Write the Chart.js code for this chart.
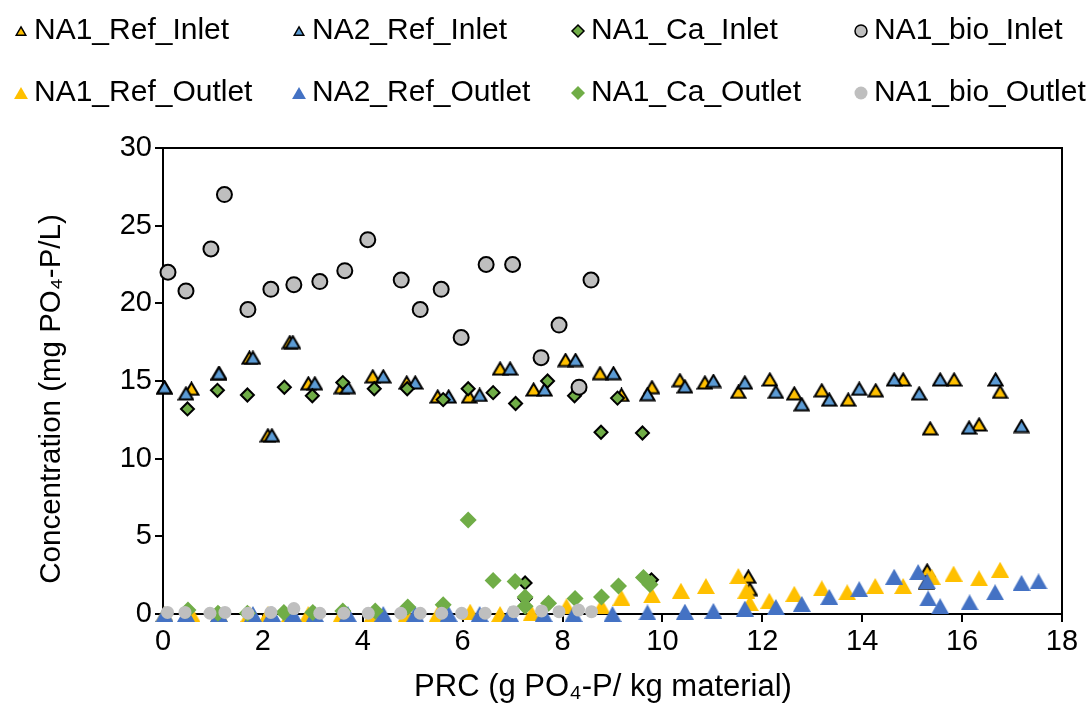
<!DOCTYPE html>
<html>
<head>
<meta charset="utf-8">
<title>PRC scatter</title>
<script src="https://cdn.jsdelivr.net/npm/chart.js@4.4.0/dist/chart.umd.min.js"></script>
<style>
  html, body { margin:0; padding:0; background:#fff; }
  #wrap { width:1089px; height:704px; }
</style>
</head>
<body>
<div id="wrap"><canvas id="chart" width="1089" height="704"></canvas></div>
<script>
// series (x = PRC, y = concentration)
const seriesNames = ['NA1_Ref_Inlet', 'NA2_Ref_Inlet', 'NA1_Ca_Inlet', 'NA1_bio_Inlet',
                     'NA1_Ref_Outlet', 'NA2_Ref_Outlet', 'NA1_Ca_Outlet', 'NA1_bio_Outlet'];

const refInletX = [0.03, 0.57, 1.12, 1.73, 2.10, 2.54, 2.91, 3.58, 4.20, 4.88, 5.50, 6.13, 6.75, 7.42, 8.06, 8.75, 9.18, 9.79, 10.35, 10.85, 11.52, 11.72, 11.75, 12.15, 12.64, 13.19, 13.72, 14.27, 14.82, 15.30, 15.36, 15.84, 16.34, 16.76];
const refInletY = [14.6, 14.5, 15.5, 16.5, 11.5, 17.5, 14.85, 14.6, 15.3, 14.9, 14.0, 14.0, 15.8, 14.45, 16.35, 15.5, 14.1, 14.6, 15.05, 14.9, 14.3, 2.4, 1.6, 15.1, 14.2, 14.4, 13.8, 14.4, 15.1, 2.8, 11.95, 15.1, 12.2, 14.3];

const ref2InletX = [0.03, 0.46, 1.12, 1.80, 2.18, 2.60, 3.04, 3.70, 4.41, 5.05, 5.72, 6.34, 6.95, 7.64, 8.26, 9.02, 9.70, 10.45, 11.02, 11.65, 12.27, 12.79, 13.34, 13.94, 14.64, 15.14, 15.28, 15.56, 16.14, 16.67, 17.19];
const ref2InletY = [14.6, 14.2, 15.5, 16.5, 11.5, 17.5, 14.85, 14.6, 15.3, 14.9, 14.0, 14.1, 15.8, 14.45, 16.35, 15.5, 14.15, 14.65, 15.0, 14.9, 14.3, 13.5, 13.8, 14.5, 15.1, 14.2, 2.0, 15.1, 12.0, 15.1, 12.1];

const caInletX = [0.49, 1.09, 1.69, 2.43, 2.99, 3.60, 4.23, 4.89, 5.61, 6.11, 6.61, 7.06, 7.25, 7.25, 7.70, 8.24, 8.77, 9.10, 9.60, 9.78];
const caInletY = [13.2, 14.4, 14.1, 14.6, 14.05, 14.9, 14.5, 14.5, 13.8, 14.5, 14.25, 13.55, 2.0, 1.0, 15.0, 14.05, 11.7, 13.9, 11.65, 2.2];

const bioInletX = [0.10, 0.46, 0.96, 1.23, 1.70, 2.16, 2.62, 3.14, 3.64, 4.10, 4.77, 5.15, 5.57, 5.97, 6.47, 7.00, 7.57, 7.93, 8.33, 8.57];
const bioInletY = [22.0, 20.8, 23.5, 27.0, 19.6, 20.9, 21.2, 21.4, 22.1, 24.1, 21.5, 19.6, 20.9, 17.8, 22.5, 22.5, 16.5, 18.6, 14.6, 21.5];

const refOutletX = [0.03, 0.57, 1.12, 1.73, 2.10, 2.54, 2.91, 3.58, 4.20, 4.88, 5.50, 6.15, 6.75, 7.38, 8.08, 8.78, 9.18, 9.79, 10.37, 10.87, 11.52, 11.68, 11.75, 12.14, 12.64, 13.19, 13.70, 14.26, 14.82, 15.39, 15.83, 16.34, 16.76];
const refOutletY = [0, 0, 0, 0, 0, 0, 0, 0, 0, 0, 0, 0.15, 0, 0.05, 0.5, 0.5, 1.05, 1.2, 1.5, 1.8, 2.45, 1.5, 0.7, 0.85, 1.3, 1.65, 1.4, 1.8, 1.8, 2.4, 2.6, 2.3, 2.85];

const ref2OutletX = [0.03, 0.46, 1.12, 1.80, 2.18, 2.60, 3.04, 3.70, 4.41, 5.05, 5.72, 6.34, 6.95, 7.62, 8.22, 9.00, 9.70, 10.45, 11.02, 11.65, 12.27, 12.79, 13.34, 13.94, 14.64, 15.12, 15.30, 15.32, 15.56, 16.15, 16.66, 17.19, 17.53];
const ref2OutletY = [0, 0, 0, 0, 0, 0, 0, 0, 0, 0, 0, 0, 0, 0, 0, 0, 0.1, 0.15, 0.2, 0.35, 0.45, 0.65, 1.1, 1.6, 2.4, 2.7, 2.1, 1.0, 0.5, 0.75, 1.4, 2.0, 2.1];

const caOutletX = [0.50, 1.10, 1.69, 2.42, 3.00, 3.60, 4.25, 4.90, 5.61, 6.11, 6.61, 7.05, 7.25, 7.25, 7.72, 8.25, 8.78, 9.12, 9.62, 9.75];
const caOutletY = [0.25, 0.05, 0.05, 0.1, 0.1, 0.2, 0.2, 0.45, 0.6, 6.05, 2.15, 2.1, 1.1, 0.5, 0.7, 1.0, 1.1, 1.8, 2.35, 1.9];

const bioOutletX = [0.09, 0.44, 0.94, 1.24, 1.70, 2.16, 2.62, 3.14, 3.62, 4.11, 4.76, 5.15, 5.58, 5.98, 6.45, 7.02, 7.58, 7.93, 8.32, 8.58];
const bioOutletY = [0.1, 0.1, 0.05, 0.1, 0.05, 0.1, 0.35, 0.05, 0.05, 0.05, 0.05, 0.05, 0.05, 0.05, 0.05, 0.15, 0.2, 0.15, 0.25, 0.15];

const xTickValues = [0, 2, 4, 6, 8, 10, 12, 14, 16, 18];
const yTickValues = [0, 5, 10, 15, 20, 25, 30];
const xTitle = 'PRC (g PO₄-P/ kg material)';
const yTitle = 'Concentration (mg PO₄-P/L)';

const FONT = '"Liberation Sans", Arial, sans-serif';

function pts(xs, ys) { return xs.map((x, i) => ({ x: x, y: ys[i] })); }

// triangle markers as small canvases so they sit centred on their box (like Excel)
function triImage(w, h, fill, stroke, lw) {
  const c = document.createElement('canvas');
  c.width = w; c.height = h;
  const g = c.getContext('2d');
  const m = lw ? lw / 2 + 0.5 : 0;
  g.beginPath();
  g.moveTo(w / 2, m); g.lineTo(w - m, h - m); g.lineTo(m, h - m);
  g.closePath();
  g.fillStyle = fill; g.fill();
  if (lw) { g.lineJoin = 'miter'; g.lineWidth = lw; g.strokeStyle = stroke; g.stroke(); }
  return c;
}

// style per series: [shape, fill, border, borderWidth, radius, legendRadius]
const styles = [
  ['triangle', '#FFC000', '#000', 2, 8, 5.5],
  ['triangle', '#5B9BD5', '#000', 2, 8, 5.5],
  ['rectRot', '#70AD47', '#000', 2, 6.5, 6],
  ['circle', '#BFBFBF', '#000', 2, 7.5, 6],
  ['triangle', '#FFC000', '#FFC000', 0, 9.5, 8],
  ['triangle', '#4472C4', '#4472C4', 0, 9.5, 8],
  ['rectRot', '#70AD47', '#70AD47', 0, 8.5, 7],
  ['circle', '#BFBFBF', '#BFBFBF', 0, 6.5, 6.5]
];
const seriesData = [
  pts(refInletX, refInletY), pts(ref2InletX, ref2InletY), pts(caInletX, caInletY), pts(bioInletX, bioInletY),
  pts(refOutletX, refOutletY), pts(ref2OutletX, ref2OutletY), pts(caOutletX, caOutletY), pts(bioOutletX, bioOutletY)
];

const datasets = seriesNames.map((name, i) => {
  const s = styles[i];
  let style = s[0];
  if (style === 'triangle') {
    style = s[3] ? triImage(17, 15, s[1], s[2], s[3]) : triImage(18, 16, s[1], s[2], 0);
  }
  return {
    label: name,
    data: seriesData[i],
    pointStyle: style,
    shape: s[0],
    backgroundColor: s[1], borderColor: s[2],
    pointBackgroundColor: s[1], pointBorderColor: s[2],
    pointBorderWidth: s[3], pointRadius: s[4], pointHoverRadius: s[4],
    legendRadius: s[5],
    showLine: false,
    clip: false,
    order: 8 - i // later series on top, like the original
  };
});

function marker(ctx, style, x, y, r) {
  ctx.beginPath();
  if (style === 'circle') {
    ctx.arc(x, y, r, 0, Math.PI * 2);
  } else if (style === 'triangle') {
    ctx.moveTo(x, y - r);
    ctx.lineTo(x + r * Math.sin(2 * Math.PI / 3), y + r / 2);
    ctx.lineTo(x - r * Math.sin(2 * Math.PI / 3), y + r / 2);
  } else {
    ctx.moveTo(x, y - r); ctx.lineTo(x + r, y); ctx.lineTo(x, y + r); ctx.lineTo(x - r, y);
  }
  ctx.closePath();
}

// 4 x 2 legend grid above the plot
const legendColX = [21, 299, 578, 861];
const legendRowY = [31, 93];
const gridLegend = {
  id: 'gridLegend',
  afterDraw(chart) {
    const ctx = chart.ctx;
    ctx.save();
    chart.data.datasets.forEach((ds, i) => {
      const x = legendColX[i % 4], y = legendRowY[Math.floor(i / 4)];
      const r = ds.legendRadius;
      marker(ctx, ds.shape, x, ds.shape === 'triangle' ? y + r / 4 : y, r);
      ctx.fillStyle = ds.backgroundColor; ctx.fill();
      if (ds.pointBorderWidth > 0) { ctx.lineWidth = 1.5; ctx.strokeStyle = ds.borderColor; ctx.stroke(); }
      ctx.fillStyle = '#000';
      ctx.font = '30px ' + FONT;
      ctx.textBaseline = 'middle';
      ctx.textAlign = 'left';
      ctx.fillText(ds.label, x + 13, y);
    });
    ctx.restore();
  }
};

// top/right edges of the plot box and the two axis titles
const plotBox = {
  id: 'plotBox',
  beforeDatasetsDraw(chart) {
    const a = chart.chartArea, ctx = chart.ctx;
    ctx.save();
    ctx.strokeStyle = '#000'; ctx.lineWidth = 2;
    ctx.beginPath();
    ctx.moveTo(a.left, a.top); ctx.lineTo(a.right, a.top); ctx.lineTo(a.right, a.bottom);
    ctx.stroke();
    ctx.fillStyle = '#000';
    ctx.textAlign = 'center'; ctx.textBaseline = 'middle';
    ctx.font = '31px ' + FONT;
    ctx.fillText(xTitle, 603, 687);
    ctx.translate(52, 399);
    ctx.rotate(-Math.PI / 2);
    ctx.font = '29.5px ' + FONT;
    ctx.fillText(yTitle, 0, 0);
    ctx.restore();
  }
};

new Chart(document.getElementById('chart'), {
  type: 'scatter',
  data: { datasets },
  plugins: [gridLegend, plotBox],
  options: {
    responsive: false,
    animation: false,
    events: [],
    layout: { padding: { top: 148, right: 27, left: 0, bottom: 0 } },
    plugins: { legend: { display: false }, tooltip: { enabled: false } },
    scales: {
      x: {
        type: 'linear', min: 0, max: 18,
        afterBuildTicks(s) { s.ticks = xTickValues.map(v => ({ value: v })); },
        afterFit(s) { s.height = 90; },
        ticks: { color: '#000', padding: 3, font: { size: 29, family: FONT } },
        grid: { drawOnChartArea: false, drawTicks: true, tickLength: 8, color: '#000', lineWidth: 2 },
        border: { color: '#000', width: 2 }
      },
      y: {
        type: 'linear', min: 0, max: 30,
        afterBuildTicks(s) { s.ticks = yTickValues.map(v => ({ value: v })); },
        afterFit(s) { s.width = 163; },
        ticks: { color: '#000', padding: 3, font: { size: 29, family: FONT } },
        grid: { drawOnChartArea: false, drawTicks: true, tickLength: 8, color: '#000', lineWidth: 2 },
        border: { color: '#000', width: 2 }
      }
    }
  }
});
</script>
</body>
</html>
